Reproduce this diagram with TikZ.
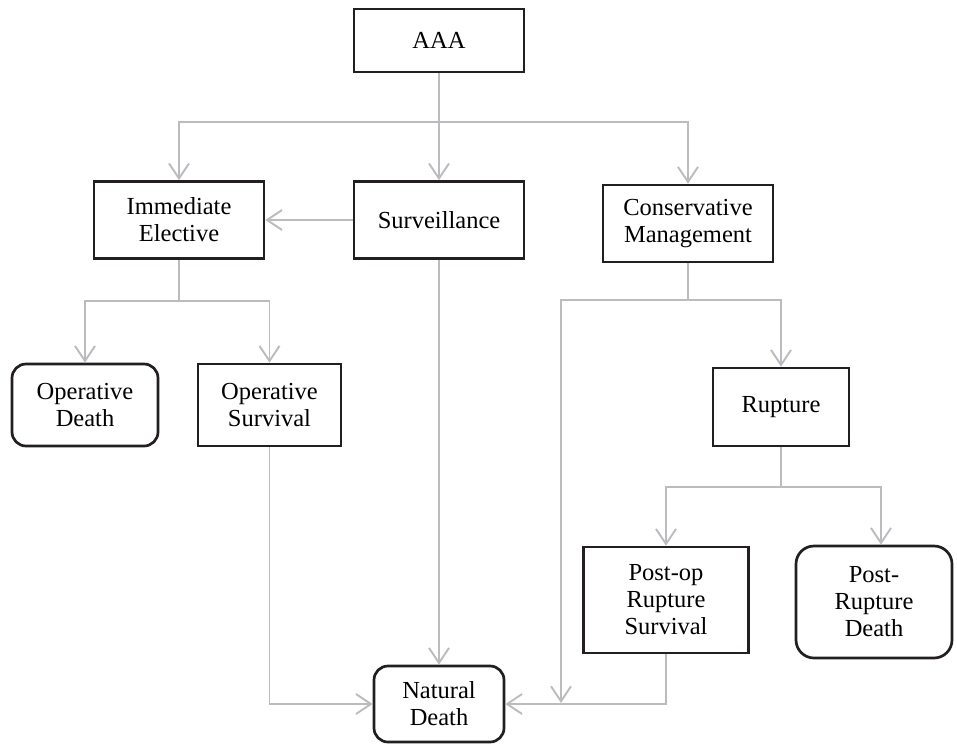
\documentclass[tikz,border=0pt]{standalone}
\usepackage{fontspec}
\setmainfont{Liberation Serif}
\usepackage{tikz}
\usetikzlibrary{
    arrows.meta,
    positioning,
    calc
}
\definecolor{boxline}{RGB}{35,31,32}
\definecolor{linkgray}{RGB}{188,188,192}
\tikzset{
    process/.style = {
        rectangle,
        draw=boxline,
        line width=2.7pt,
        minimum width=170pt,
        minimum height=77pt,
        align=center,
        font=\fontsize{24.5}{27}\selectfont
    },
    terminal/.style = {
        process,
        rounded corners=14pt
    },
    link/.style = {
        draw=linkgray,
        line width=1.9pt
    },
    arrow/.style = {
        link,
        -{Straight Barb[length=15pt,width=20pt,line width=1.9pt]}
    }
}

\begin{document}
\begin{tikzpicture}[x=1pt,y=-1pt]
\useasboundingbox (0,0) rectangle (957,744);
% boxes
\node[process, minimum height=63pt] (aaa) at (439,40.5) {AAA};
\node[process] (imm) at (179,220) {Immediate\\Elective};
\node[process] (surv) at (439,220) {Surveillance};
\node[process] (cons) at (688,223.5) {Conservative\\Management};
\node[terminal, minimum width=146pt, minimum height=82pt] (opdeath) at (85,405) {Operative\\Death};
\node[process, minimum width=143pt, minimum height=82pt] (opsurv) at (269.5,405) {Operative\\Survival};
\node[process, minimum width=136pt, minimum height=78pt] (rupt) at (781,407) {Rupture};
\node[process, minimum width=165pt, minimum height=106pt] (postop) at (666,600) {Post-op\\Rupture\\Survival};
\node[terminal, rounded corners=18pt, minimum width=156pt, minimum height=112pt] (prdeath) at (874,602) {Post-\\Rupture\\Death};
\node[terminal, minimum width=130pt, minimum height=76pt] (natd) at (439,704) {Natural\\Death};

% split points
\coordinate (topsplit) at (439,122);
\coordinate (immsplit) at (179,301);
\coordinate (conssplit) at (688,300);
\coordinate (ruptsplit) at (781,487);
\coordinate (consend) at (561,703);

% connectors
\draw[arrow] (aaa) -- (surv);
\draw[arrow] (topsplit) -| (imm);
\draw[arrow] (topsplit) -| (cons);
\draw[arrow] (surv) -- (imm);
\draw[link] (imm) -- (immsplit);
\draw[arrow] (immsplit) -| (opdeath);
\draw[arrow] (immsplit) -| (opsurv);
\draw[arrow] (surv) -- (natd);
\draw[arrow] (opsurv.south) |- (natd.west);
\draw[link] (cons) -- (conssplit);
\draw[arrow] (conssplit) -| (rupt);
\draw[arrow] (conssplit) -| (consend);
\draw[link] (rupt) -- (ruptsplit);
\draw[arrow] (ruptsplit) -| (postop);
\draw[arrow] (ruptsplit) -| ([xshift=7pt]prdeath.north);
\draw[arrow] (postop.south) |- (natd.east);
\end{tikzpicture}
\end{document}
